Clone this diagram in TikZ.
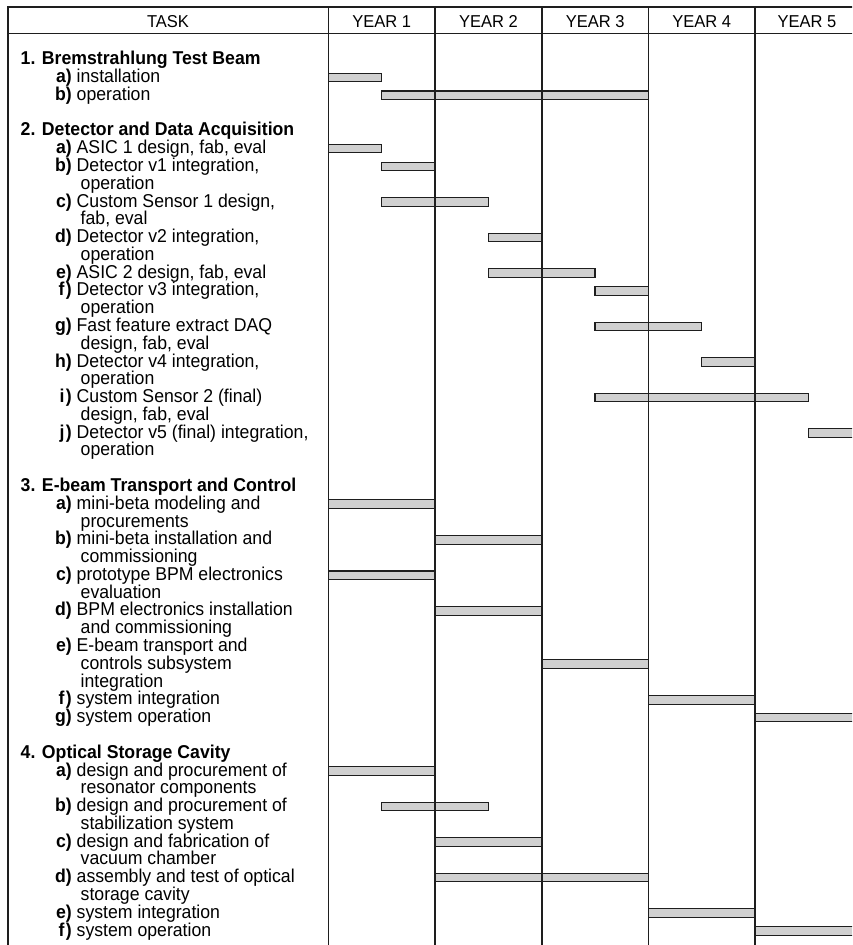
\documentclass[tikz,border=0pt]{standalone}
\usepackage{fontspec}
\setmainfont{Liberation Sans}[FakeStretch=0.95]
\newfontfamily\hdrfont{Liberation Sans}[FakeStretch=0.96]
\definecolor{linec}{HTML}{1E1E1E}
\definecolor{barfill}{HTML}{D0D0D0}
\tikzset{
  gridline/.style={line width=1.3pt, draw=linec},
  taskbar/.style={draw=linec, line width=1.1pt, fill=barfill},
  hdr/.style={inner sep=0pt, anchor=base, font=\hdrfont\fontsize{17.2}{18}\selectfont},
  head/.style={inner sep=0pt, anchor=base west, font=\fontsize{18.6}{17.78}\selectfont\bfseries},
  lbl/.style={inner sep=0pt, anchor=base east, font=\fontsize{18.6}{17.78}\selectfont\bfseries},
  txt/.style={inner sep=0pt, anchor=base west, font=\fontsize{18.6}{17.78}\selectfont},
}
% bar: start year, end year, line index
\newcommand\gbar[3]{\draw[taskbar] ({328.5+#1*106.6},{59.7+#3*17.78-4.3}) rectangle ({328.5+#2*106.6},{59.7+#3*17.78+4.3});}
% heading: name, line, text
\newcommand\hd[3]{\node[head] (#1) at (20.5,{64.8+#2*17.78}) {#3};}
% item: name, line, label, text
\newcommand\itm[4]{\node[lbl] (#1l) at (72,{64.8+#2*17.78}) {#3};
  \node[txt] (#1t) at (76.5,{64.8+#2*17.78}) {#4};}
% continuation: name, line, text
\newcommand\cnt[3]{\node[txt] (#1) at (80.5,{64.8+#2*17.78}) {#3};}
\begin{document}
\begin{tikzpicture}[x=1pt,y=-1pt]
\useasboundingbox (0,0) rectangle (852,945);
\clip (0,0) rectangle (852,945);

% bars
\gbar{0}{0.5}{1}
\gbar{0.5}{3}{2}
\gbar{0}{0.5}{5}
\gbar{0.5}{1}{6}
\gbar{0.5}{1.5}{8}
\gbar{1.5}{2}{10}
\gbar{1.5}{2.5}{12}
\gbar{2.5}{3}{13}
\gbar{2.5}{3.5}{15}
\gbar{3.5}{4}{17}
\gbar{2.5}{4.5}{19}
\gbar{4.5}{5}{21}
\gbar{0}{1}{25}
\gbar{1}{2}{27}
\gbar{0}{1}{29}
\gbar{1}{2}{31}
\gbar{2}{3}{34}
\gbar{3}{4}{36}
\gbar{4}{5}{37}
\gbar{0}{1}{40}
\gbar{0.5}{1.5}{42}
\gbar{1}{2}{44}
\gbar{1}{3}{46}
\gbar{3}{4}{48}
\gbar{4}{5}{49}

% grid
\coordinate (tl) at (8,7);
\coordinate (tr) at (860,7);
\coordinate (hl) at (8,33.3);
\coordinate (hr) at (860,33.3);
\coordinate (bl) at (8,950);
\draw[gridline] (tr) -- (tl) -- (bl);
\draw[gridline] (hl) -- (hr);
\foreach \i/\x in {1/328.5,2/435,3/542,4/648.5,5/755}{
  \coordinate (ct\i) at (\x,7);
  \coordinate (cb\i) at (\x,950);
  \draw[gridline] (ct\i) -- (cb\i);
}

% header
\node[hdr] (task) at (168,27.2) {TASK};
\node[hdr] (y1) at (381.7,27.2) {YEAR 1};
\node[hdr] (y2) at (488.5,27.2) {YEAR 2};
\node[hdr] (y3) at (595.2,27.2) {YEAR 3};
\node[hdr] (y4) at (701.8,27.2) {YEAR 4};
\node[hdr] (y5) at (807,27.2) {YEAR 5};

% section 1
\hd{h1}{0}{1. Bremstrahlung Test Beam}
\itm{s1a}{1}{a)}{installation}
\itm{s1b}{2}{b)}{operation}

% section 2
\hd{h2}{4}{2. Detector and Data Acquisition}
\itm{s2a}{5}{a)}{ASIC 1 design, fab, eval}
\itm{s2b}{6}{b)}{Detector v1 integration,}
\cnt{s2bc}{7}{operation}
\itm{s2c}{8}{c)}{Custom Sensor 1 design,}
\cnt{s2cc}{9}{fab, eval}
\itm{s2d}{10}{d)}{Detector v2 integration,}
\cnt{s2dc}{11}{operation}
\itm{s2e}{12}{e)}{ASIC 2 design, fab, eval}
\itm{s2f}{13}{f\kern1.5pt)}{Detector v3 integration,}
\cnt{s2fc}{14}{operation}
\itm{s2g}{15}{g)}{Fast feature extract DAQ}
\cnt{s2gc}{16}{design, fab, eval}
\itm{s2h}{17}{h)}{Detector v4 integration,}
\cnt{s2hc}{18}{operation}
\itm{s2i}{19}{i\kern1.5pt)}{Custom Sensor 2 (final)}
\cnt{s2ic}{20}{design, fab, eval}
\itm{s2j}{21}{j\kern1.5pt)}{Detector v5 (final) integration,}
\cnt{s2jc}{22}{operation}

% section 3
\hd{h3}{24}{3. E-beam Transport and Control}
\itm{s3a}{25}{a)}{mini-beta modeling and}
\cnt{s3ac}{26}{procurements}
\itm{s3b}{27}{b)}{mini-beta installation and}
\cnt{s3bc}{28}{commissioning}
\itm{s3c}{29}{c)}{prototype BPM electronics}
\cnt{s3cc}{30}{evaluation}
\itm{s3d}{31}{d)}{BPM electronics installation}
\cnt{s3dc}{32}{and commissioning}
\itm{s3e}{33}{e)}{E-beam transport and}
\cnt{s3ec}{34}{controls subsystem}
\cnt{s3ed}{35}{integration}
\itm{s3f}{36}{f\kern1.5pt)}{system integration}
\itm{s3g}{37}{g)}{system operation}

% section 4
\hd{h4}{39}{4. Optical Storage Cavity}
\itm{s4a}{40}{a)}{design and procurement of}
\cnt{s4ac}{41}{resonator components}
\itm{s4b}{42}{b)}{design and procurement of}
\cnt{s4bc}{43}{stabilization system}
\itm{s4c}{44}{c)}{design and fabrication of}
\cnt{s4cc}{45}{vacuum chamber}
\itm{s4d}{46}{d)}{assembly and test of optical}
\cnt{s4dc}{47}{storage cavity}
\itm{s4e}{48}{e)}{system integration}
\itm{s4f}{49}{f\kern1.5pt)}{system operation}
\end{tikzpicture}
\end{document}
